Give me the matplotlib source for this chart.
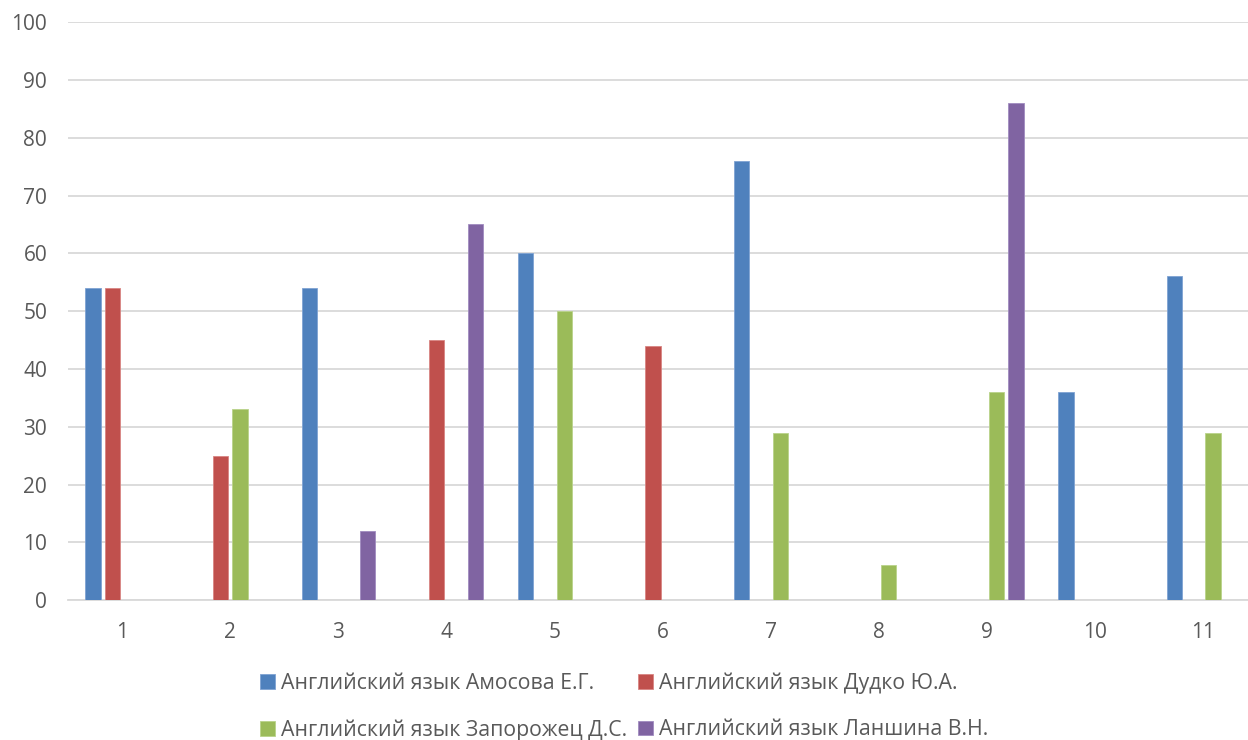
import matplotlib
matplotlib.use("Agg")
import matplotlib.pyplot as plt
import numpy as np

plt.rcParams['font.family'] = ['Open Sans', 'DejaVu Sans']

# data
categories = ['1', '2', '3', '4', '5', '6', '7', '8', '9', '10', '11']
series_names = ['Английский язык Амосова Е.Г.', 'Английский язык Дудко Ю.А.',
                'Английский язык Запорожец Д.С.', 'Английский язык Ланшина В.Н.']
amosova = [54, 0, 54, 0, 60, 0, 76, 0, 0, 36, 56]
dudko = [54, 25, 0, 45, 0, 44, 0, 0, 0, 0, 0]
zaporozhets = [0, 33, 0, 0, 50, 0, 29, 6, 36, 0, 29]
lanshina = [0, 0, 12, 65, 0, 0, 0, 0, 86, 0, 0]
colors = ['#4F81BD', '#C0504D', '#9BBB59', '#8064A2']
edges = ['#7FA3D3', '#D88583', '#B9D38A', '#A08BC0']

fig = plt.figure(figsize=(12.48, 7.4), dpi=100)
# plot area runs a bit past the right edge, like the original
ax = fig.add_axes([0.0545, 0.189, 0.953, 0.781])

x = np.arange(len(categories))
step = 0.179
width = 0.142
all_series = [amosova, dudko, zaporozhets, lanshina]
handles = []
for i, vals in enumerate(all_series):
    b = ax.bar(x + (i - 1.5) * step, vals, width, color=colors[i], label=series_names[i],
               edgecolor=edges[i], linewidth=0.6, zorder=3)
    handles.append(b)

ax.set_ylim(0, 100)
ax.set_xlim(-0.5, len(categories) - 0.5)
ax.set_yticks(range(0, 101, 10))
ax.set_xticks(x)
ax.set_xticklabels(categories)
ax.grid(axis='y', color='#D9D9D9', linewidth=1.3, zorder=0)
for s in ['top', 'right', 'left']:
    ax.spines[s].set_visible(False)
ax.spines['bottom'].set_color('#D9D9D9')
ax.spines['bottom'].set_linewidth(1.3)
ax.tick_params(axis='both', length=0, labelsize=15, colors='#595959')
ax.tick_params(axis='y', pad=15)
ax.tick_params(axis='x', pad=16)

# row-wise order for 2 columns
order = [0, 2, 1, 3]
leg = fig.legend([handles[k] for k in order], [series_names[k] for k in order],
                 loc='center', bbox_to_anchor=(0.5, 0.045), ncol=2, frameon=False,
                 fontsize=15.3, handlelength=0.7, handleheight=0.7, handletextpad=0.3,
                 columnspacing=0.5, labelspacing=1.2)
for t in leg.get_texts():
    t.set_color('#595959')

fig.savefig('out.png', dpi=100)
